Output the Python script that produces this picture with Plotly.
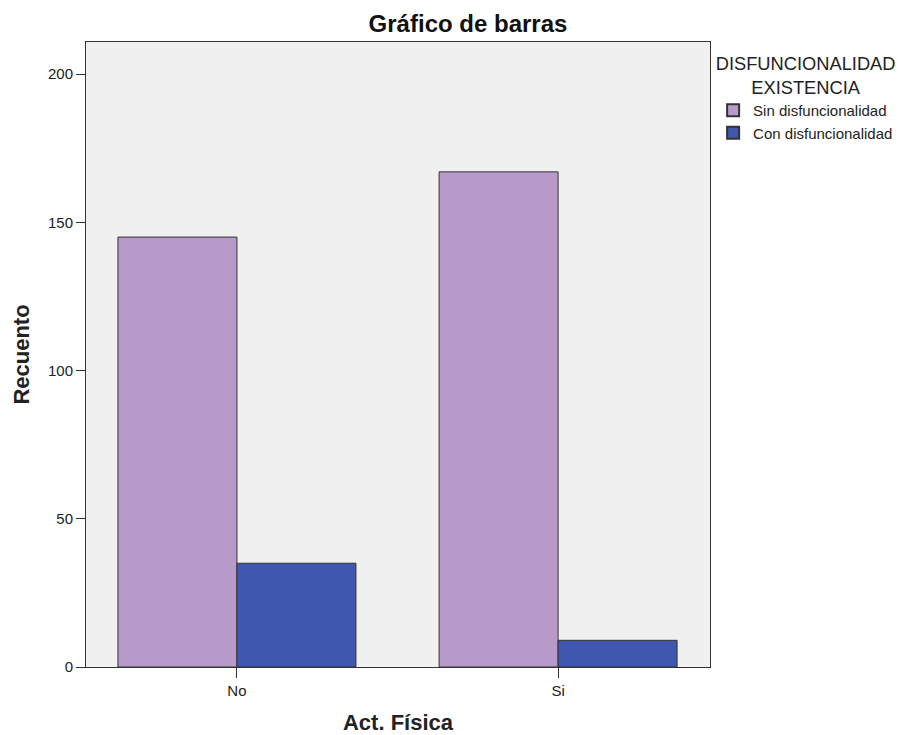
import plotly.graph_objects as go

categories = ["No", "Si"]
sin_disf = [145, 167]
con_disf = [35, 9]
series_names = ["Sin disfuncionalidad", "Con disfuncionalidad"]
y_ticks = [0, 50, 100, 150, 200]
legend_title_lines = ["DISFUNCIONALIDAD", "EXISTENCIA"]

font_family = "Liberation Sans, Arial, sans-serif"

fig = go.Figure()
fig.add_trace(go.Bar(x=categories, y=sin_disf, name=series_names[0],
                     marker=dict(color="#b89aca", line=dict(color="#333333", width=1))))
fig.add_trace(go.Bar(x=categories, y=con_disf, name=series_names[1],
                     marker=dict(color="#3f57ae", line=dict(color="#333333", width=1))))

legend_title = legend_title_lines[0] + "<br>" + "\u00a0" * 7 + legend_title_lines[1]

fig.update_layout(
    width=903, height=727,
    margin=dict(l=78, r=201, t=34, b=68, autoexpand=False),
    paper_bgcolor="white",
    plot_bgcolor="#f0f0f0",
    barmode="group",
    bargap=0.259,
    bargroupgap=0,
    font=dict(family=font_family, color="#222222", size=15),
    title=dict(text="<b>Gráfico de barras</b>", x=0.5094, xref="container", xanchor="center",
               y=0.978, yref="container", yanchor="middle",
               font=dict(size=24, family=font_family, color="#111111")),
    legend=dict(
        title=dict(text=legend_title, side="top center",
                   font=dict(size=18.3, family=font_family, color="#222222")),
        x=1.005, xanchor="left", y=0.993, yanchor="top",
        font=dict(size=15, family=font_family, color="#222222"),
        bgcolor="rgba(0,0,0,0)",
        itemsizing="constant",
        itemwidth=30,
        tracegroupgap=0,
    ),
    xaxis=dict(
        type="category",
        automargin=False,
        range=[-0.470, 1.473],
        showline=True, linecolor="#333333", linewidth=1, mirror=True,
        ticks="outside", ticklen=10, tickcolor="#333333",
        tickfont=dict(size=15),
        title=dict(text="<b>Act. Física</b>", font=dict(size=22), standoff=16),
        showgrid=False,
    ),
    yaxis=dict(
        automargin=False,
        range=[0, 210.8],
        tickvals=y_ticks,
        showline=True, linecolor="#333333", linewidth=1, mirror=True,
        ticks="outside", ticklen=9, tickcolor="#333333",
        tickfont=dict(size=15),
        title=dict(text="<b>Recuento</b>", font=dict(size=22), standoff=12),
        showgrid=False, zeroline=False,
    ),
)

fig.write_html("out.html")
